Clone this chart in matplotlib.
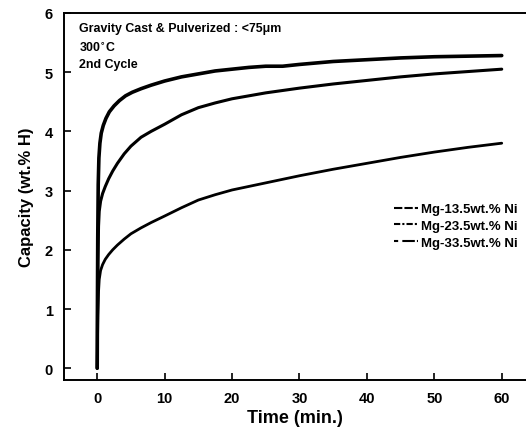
import matplotlib
matplotlib.use('Agg')
import matplotlib.pyplot as plt
from matplotlib.lines import Line2D

plt.rcParams['font.family'] = ['Liberation Sans', 'DejaVu Sans']
plt.rcParams['font.weight'] = 'bold'

labels = ['Mg-13.5wt.% Ni', 'Mg-23.5wt.% Ni', 'Mg-33.5wt.% Ni']

t_top = [0, 0.03, 0.08, 0.15, 0.25, 0.4, 0.6, 0.9, 1.3, 1.8, 2.5, 3.3, 4.2, 5.2, 6.5, 8, 10,
         12.5, 15, 17.5, 20, 22.5, 25, 27.5, 30, 35, 40, 45, 50, 55, 60]
c_top = [0, 1.0, 2.2, 3.1, 3.55, 3.8, 3.97, 4.1, 4.22, 4.33, 4.43, 4.52, 4.6, 4.66, 4.72, 4.78, 4.85,
         4.92, 4.97, 5.02, 5.05, 5.08, 5.1, 5.1, 5.13, 5.18, 5.21, 5.24, 5.26, 5.27, 5.28]

t_mid = [0, 0.05, 0.1, 0.2, 0.3, 0.5, 0.8, 1.2, 1.7, 2.3, 3, 4, 5, 6.5, 8, 10, 12.5, 15, 17.5, 20,
         25, 30, 35, 40, 45, 50, 55, 60]
c_mid = [0, 1.0, 1.8, 2.4, 2.65, 2.82, 2.95, 3.07, 3.2, 3.33, 3.46, 3.62, 3.75, 3.9, 4.0, 4.12,
         4.28, 4.4, 4.48, 4.55, 4.65, 4.73, 4.8, 4.86, 4.92, 4.97, 5.01, 5.05]

t_bot = [0, 0.05, 0.1, 0.2, 0.3, 0.5, 0.8, 1.2, 1.7, 2.3, 3, 4, 5, 6.5, 8, 10, 12.5, 15, 17.5, 20,
         25, 30, 35, 40, 45, 50, 55, 60]
c_bot = [0, 0.5, 0.9, 1.3, 1.5, 1.65, 1.75, 1.84, 1.92, 2.0, 2.08, 2.18, 2.27, 2.37, 2.46, 2.57,
         2.71, 2.84, 2.93, 3.01, 3.13, 3.25, 3.36, 3.46, 3.56, 3.65, 3.73, 3.8]

fig = plt.figure(figsize=(5.26, 4.35), dpi=100)
ax = fig.add_axes([0.122, 0.124, 0.878, 0.844])

ax.plot(t_top, c_top, color='black', lw=2.6, solid_capstyle='round')
ax.plot(t_mid, c_mid, color='black', lw=2.2, solid_capstyle='round')
ax.plot(t_bot, c_bot, color='black', lw=2.0, solid_capstyle='round')

ax.set_xlim(-4.9, 63.6)
ax.set_ylim(-0.2, 6.0)
ax.set_xticks([0, 10, 20, 30, 40, 50, 60])
ax.set_yticks([0, 1, 2, 3, 4, 5, 6])
ax.tick_params(direction='in', length=5, width=1.2, labelsize=10.5)
ax.tick_params(axis='y', pad=8)
ax.tick_params(axis='x', pad=8)
for lab in ax.get_xticklabels() + ax.get_yticklabels():
    lab.set_fontweight('bold')
ax.spines['right'].set_visible(False)
for s in ['left', 'top', 'bottom']:
    ax.spines[s].set_linewidth(1.4)

ax.set_xlabel('Time (min.)', fontsize=13, fontweight='bold', labelpad=3)
ax.set_ylabel('Capacity (wt.% H)', fontsize=12, fontweight='bold', labelpad=8)

ax.text(0.033, 0.975, 'Gravity Cast & Pulverized : <75\u03bcm', transform=ax.transAxes,
        fontsize=8.9, fontweight='bold', va='top')
ax.text(0.033, 0.925, '300$^{\\circ}$C', transform=ax.transAxes,
        fontsize=8.9, fontweight='bold', va='top')
ax.text(0.033, 0.878, '2nd Cycle', transform=ax.transAxes,
        fontsize=8.9, fontweight='bold', va='top')

handles = [Line2D([], [], color='black', lw=1.5, ls=(0, (4, 1))),
           Line2D([], [], color='black', lw=1.5, ls=(0, (3, 1, 1, 1))),
           Line2D([], [], color='black', lw=1.5, ls=(0, (2, 2, 6, 1)))]
ax.legend(handles, labels, loc='center left', bbox_to_anchor=(0.689, 0.42), frameon=False,
          prop={'size': 9.5, 'weight': 'bold'}, handlelength=1.8, handletextpad=0.2,
          labelspacing=0.35)

fig.savefig('out.png', dpi=100)
